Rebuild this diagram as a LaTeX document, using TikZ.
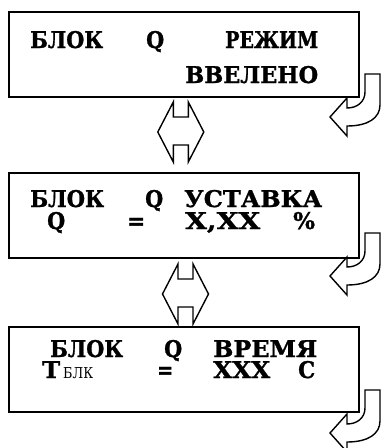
\documentclass[tikz,border=0pt]{standalone}
\usepackage{fontspec}
\usepackage{graphicx}
\newfontfamily\lcdfont[BoldFeatures={FakeBold=1.2}]{DejaVu Serif}
\newcommand\fitw[2]{\resizebox{#1pt}{\height}{#2}}
\begin{document}
\begin{tikzpicture}[x=1pt,y=-1pt,
  lcdbox/.style={draw,line width=2pt,minimum width=350pt,minimum height=85pt,inner sep=0pt},
  txt/.style={anchor=base west,inner sep=0pt,font=\lcdfont\bfseries\fontsize{23}{23}\selectfont},
  sub/.style={anchor=base west,inner sep=0pt,font=\lcdfont\fontsize{15}{15}\selectfont},
  hollow/.style={draw,line width=1.4pt,line join=miter},
  dblarrow/.pic={\draw[hollow] (-7.5,0) -- (-7.5,15) -- (7.5,15) -- (7.5,0) -- (23,30) -- (7.5,60) -- (7.5,43) -- (-7.5,43) -- (-7.5,60) -- (-23,30) -- cycle;},
  retarrow/.pic={\draw[hollow] (0,0) -- (15,0) -- (15,31) .. controls (15,44) and (3,52) .. (-18,52) -- (-18,62) -- (-35,43) -- (-18,24) -- (-18,34) .. controls (-8,34) and (0,28) .. (0,18) -- cycle;}]
\useasboundingbox (0,0) rectangle (382,448);
% boxes
\node[lcdbox] (b1) at (184,54.5) {};
\node[lcdbox] (b2) at (184,215.5) {};
\node[lcdbox] (b3) at (184,369.5) {};
% box 1 text
\node[txt] (t11) at (30,48) {\fitw{73}{БЛОК}};
\node[txt] (t12) at (146,48) {\fitw{18}{Q}};
\node[txt] (t13) at (225,48) {\fitw{93}{РЕЖИМ}};
\node[txt] (t14) at (185,83) {\fitw{133}{ВВЕЛЕНО}};
% box 2 text
\node[txt] (t21) at (30,207) {\fitw{74}{БЛОК}};
\node[txt] (t22) at (145,207) {\fitw{18}{Q}};
\node[txt] (t23) at (184,207) {\fitw{138}{УСТАВКА}};
\node[txt] (t24) at (47,229) {\fitw{18}{Q}};
\node[txt] (t25) at (127,229) {\fitw{18}{=}};
\node[txt] (t26) at (185,229) {\fitw{75}{X,XX}};
\node[txt] (t27) at (293,229) {\%};
% box 3 text
\node[txt] (t31) at (50,357) {\fitw{73}{БЛОК}};
\node[txt] (t32) at (164,357) {\fitw{18}{Q}};
\node[txt] (t33) at (213,357) {\fitw{104}{ВРЕМЯ}};
\node[txt] (t34) at (42,378) {\fitw{18}{Т}};
\node[sub] (t35) at (63,378) {\fitw{30}{БЛК}};
\node[txt] (t36) at (157,378) {\fitw{16}{=}};
\node[txt] (t37) at (213,378) {\fitw{57}{XXX}};
\node[txt] (t38) at (298,378) {\fitw{17}{С}};
% arrows
\pic at (180.8,102) {dblarrow};
\pic at (185.5,264) {dblarrow};
\pic at (365,74) {retarrow};
\pic at (365,233) {retarrow};
\pic at (365,390) {retarrow};
\end{tikzpicture}
\end{document}
